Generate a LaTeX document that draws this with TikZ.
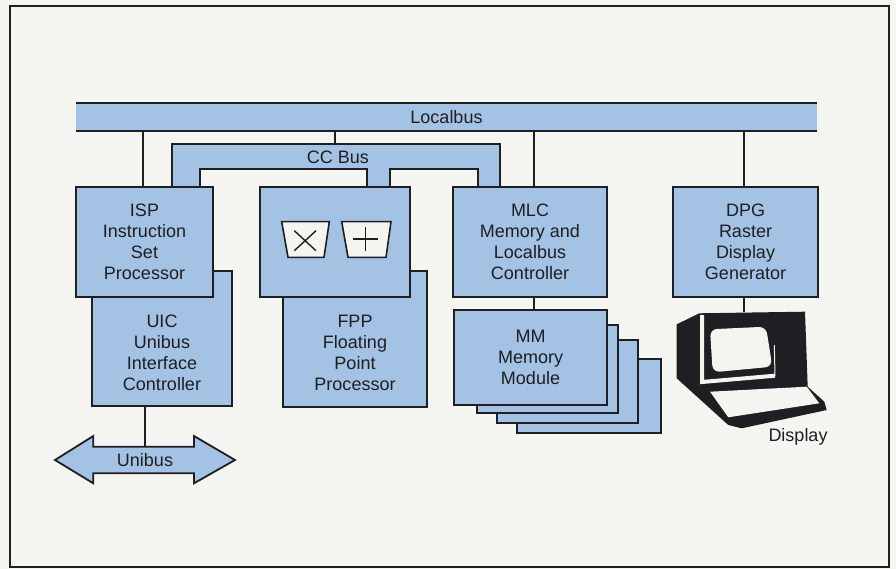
\documentclass[tikz,border=0pt]{standalone}
\usepackage{fontspec}
\setmainfont{Liberation Sans}
\usetikzlibrary{calc}
\definecolor{boxblue}{RGB}{164,194,228}
\definecolor{paper}{RGB}{244,244,240}
\definecolor{ink}{RGB}{30,30,35}
\tikzset{
	unitbox/.style={draw=ink, fill=boxblue, line width=1.8pt, inner sep=0pt, align=center},
	wire/.style={draw=ink, line width=1.1pt},
	boxtext/.style={align=center, inner sep=0pt},
}

\begin{document}
\begin{tikzpicture}[x=1pt, y=-1pt, font=\fontsize{18}{21}\selectfont, text=ink]
			%%%%% START %%%%%
			
			\fill[paper] (0, 0) rectangle (896, 569);
			\useasboundingbox (0, 0) rectangle (896, 569);
			\draw[ink, line width=1.4pt] (10, 6) rectangle (889, 567);
			
			% localbus
			\node[fill=boxblue, inner sep=0pt, minimum width=741pt, minimum height=28pt] (localbus) at (446.5, 117) {Localbus};
			\draw[ink, line width=1.8pt] (localbus.north west) -- (localbus.north east);
			\draw[ink, line width=1.8pt] (localbus.south west) -- (localbus.south east);
			
			% cc bus
			\draw[ink, fill=boxblue, line width=1.8pt] (172, 187) -- (172, 144) -- (500, 144) -- (500, 187) -- (478, 187) -- (478, 169) -- (390, 169) -- (390, 187)
				-- (367, 187) -- (367, 169) -- (200, 169) -- (200, 187) -- cycle;
			\node[boxtext] (ccbus) at (338, 157) {CC Bus};
			\coordinate (cctop) at (335, 144);
			
			% processors
			\node[unitbox, minimum width=140pt, minimum height=135pt] (uic) at (162, 338.5) {};
			\node[unitbox, minimum width=137pt, minimum height=110pt] (isp) at (144.5, 242) {ISP\\Instruction\\Set\\Processor};
			\node[boxtext] (uictext) at ($(uic.south)!0.5!(isp.south -| uic.south)$) {UIC\\Unibus\\Interface\\Controller};
			
			\node[unitbox, minimum width=144pt, minimum height=136pt] (fpp) at (355, 339) {};
			\node[unitbox, minimum width=150pt, minimum height=110pt] (fpptop) at (335, 242) {};
			\node[boxtext] (fpptext) at ($(fpp.south)!0.5!(fpptop.south -| fpp.south)$) {FPP\\Floating\\Point\\Processor};
			
			\draw[ink, fill=paper, line width=1.6pt] (281.7, 221.7) -- (329.3, 221.7) -- (324, 257.3) -- (288, 257.3) -- cycle;
			\draw[ink, line width=1.4pt] (294.3, 230.7) -- (316, 250.7) (316, 230.7) -- (294.3, 250.7);
			\draw[ink, fill=paper, line width=1.6pt] (341.7, 221.7) -- (391, 221.7) -- (386, 257.3) -- (348, 257.3) -- cycle;
			\draw[ink, line width=1.4pt] (365.7, 227.3) -- (365.7, 251) (353.3, 239) -- (378.3, 239);
			
			\node[unitbox, minimum width=154pt, minimum height=110pt] (mlc) at (530, 242) {MLC\\Memory and\\Localbus\\Controller};
			\node[unitbox, minimum width=145pt, minimum height=110pt] (dpg) at (745.5, 242) {DPG\\Raster\\Display\\Generator};
			
			% memory modules
			\node[unitbox, minimum width=144pt, minimum height=74pt] (mmd) at (589, 396) {};
			\node[unitbox, minimum width=141pt, minimum height=83pt] (mmc) at (567.5, 381.5) {};
			\node[unitbox, minimum width=141pt, minimum height=88pt] (mmb) at (547.5, 369) {};
			\node[unitbox, minimum width=153pt, minimum height=95pt] (mm) at (530.5, 357.5) {MM\\Memory\\Module};
			
			% unibus
			\draw[ink, fill=boxblue, line width=1.8pt] (55, 460) -- (93.3, 436) -- (93.3, 446.7) -- (194, 446.7) -- (194, 436) -- (235, 460)
				-- (194, 483.3) -- (194, 473.3) -- (93.3, 473.3) -- (93.3, 483.3) -- cycle;
			\node[boxtext, minimum height=26.6pt] (unibus) at (145, 460) {Unibus};
			
			% display terminal
			\fill[ink] (676.7, 324.3) -- (699.3, 313.3) -- (805, 311.7) -- (807.7, 386.7) -- (824.3, 401.7) -- (826.7, 410) -- (741.7, 428.3) -- (728.3, 425) -- (676.7, 378.3) -- cycle;
			\fill[paper] (710, 391.7) -- (806.7, 386.7) -- (819.3, 403.3) -- (728.3, 417.3) -- cycle;
			\fill[paper, rounded corners=7pt] (710, 329.3) -- (766, 326.7) -- (772.3, 366.7) -- (712.7, 372.3) -- cycle;
			\draw[paper, line width=4pt] (702, 315) -- (702, 382) -- (775, 375.7);
			\draw[paper, line width=1pt] (775, 375.7) -- (774.3, 345);
			\coordinate (montop) at (744, 312);
			\node[boxtext] (display) at (798, 437) {Display};
			
			% connectors
			\draw[wire] ([xshift=-1.5pt]isp.north) -- ([xshift=-1.5pt]isp.north |- localbus.south);
			\draw[wire] (cctop) -- (cctop |- localbus.south);
			\draw[wire] ([xshift=4pt]mlc.north) -- ([xshift=4pt]mlc.north |- localbus.south);
			\draw[wire] (montop |- dpg.north) -- (montop |- localbus.south);
			\draw[wire] ([xshift=4pt]mlc.south) -- ([xshift=4pt]mlc.south |- mm.north);
			\draw[wire] (montop |- dpg.south) -- (montop);
			\draw[wire] (uic.south -| unibus.north) -- (unibus.north);
			
			%%%%% END %%%%%
\end{tikzpicture}
\end{document}
